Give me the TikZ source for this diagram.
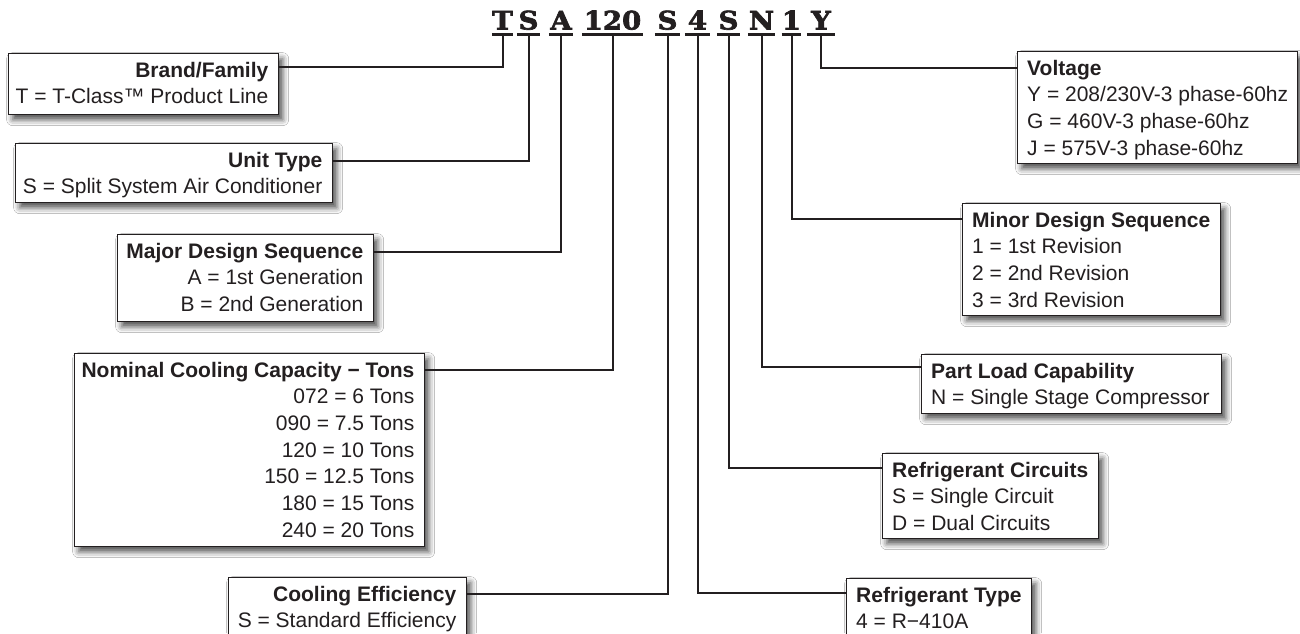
\documentclass[tikz,border=0pt]{standalone}
\usepackage{fontspec}
\setmainfont{Liberation Sans}
\newfontfamily\codefont[FakeStretch=1.08,FakeBold=2.6]{DejaVu Serif}
\usetikzlibrary{shadows.blur,calc}
\definecolor{ink}{HTML}{231F20}
\begin{document}
\begin{tikzpicture}[x=1pt,y=-1pt,
  box/.style={draw=ink,line width=1.3pt,fill=white,inner sep=0pt,anchor=north west,
    blur shadow={shadow xshift=4pt,shadow yshift=-5pt,shadow blur radius=6pt,shadow opacity=70}},
  rtxt/.style={align=right,anchor=base east,inner sep=0pt,text=ink,font=\fontsize{21}{26.7}\selectfont},
  ltxt/.style={align=left,anchor=base west,inner sep=0pt,text=ink,font=\fontsize{21}{26.7}\selectfont},
  code/.style={anchor=base,inner sep=0pt,text depth=5pt,text=ink,font=\codefont\bfseries\fontsize{25.5}{25.5}\selectfont},
  uline/.style={draw=ink,line width=2.6pt},
  conn/.style={draw=ink,line width=2pt}]
\clip (0,0) rectangle (1300,633);
\fill[white] (0,0) rectangle (1300,633);

% code letters
\node[code,minimum width=21pt] (lT) at (502.5,29.5) {T};
\node[code,minimum width=23pt] (lS1) at (528.5,29.5) {S};
\node[code,minimum width=24pt] (lA) at (561,29.5) {A};
\node[code,minimum width=61pt] (l120) at (612.5,29.5) {120};
\node[code,minimum width=25pt] (lS2) at (667.5,29.5) {S};
\node[code,minimum width=25pt] (l4) at (697.5,29.5) {4};
\node[code,minimum width=23pt] (lS3) at (728.5,29.5) {S};
\node[code,minimum width=27pt] (lN) at (761.5,29.5) {N};
\node[code,minimum width=17pt] (l1) at (791.5,29.5) {1};
\node[code,minimum width=28pt] (lY) at (821,29.5) {Y};
\foreach \n in {lT,lS1,lA,l120,lS2,l4,lS3,lN,l1,lY}
  \draw[uline] (\n.south west) -- (\n.south east);

% left boxes (text anchored at the baseline of its last line)
\node[box,minimum width=270pt,minimum height=61pt] (brand) at (8,53) {};
\node[rtxt] (brandT) at (268.5,103.7) {\textbf{Brand/Family}\\T = T-Class™ Product Line};
\node[box,minimum width=317pt,minimum height=59pt] (unit) at (15,143) {};
\node[rtxt] (unitT) at (322.5,193.7) {\textbf{Unit Type}\\S = Split System Air Conditioner};
\node[box,minimum width=256pt,minimum height=87pt] (major) at (117,234) {};
\node[rtxt] (majorT) at (363.5,311.4) {\textbf{Major Design Sequence}\\A = 1st Generation\\B = 2nd Generation};
\node[box,minimum width=350pt,minimum height=193pt] (nominal) at (74,353) {};
\node[rtxt] (nominalT) at (414.5,537.2) {\textbf{Nominal Cooling Capacity − Tons}\\072 = 6 Tons\\090 = 7.5 Tons\\120 = 10 Tons\\150 = 12.5 Tons\\180 = 15 Tons\\240 = 20 Tons};
\node[box,minimum width=238pt,minimum height=68pt] (cooling) at (228,577) {};
\node[rtxt] (coolingT) at (456.5,627.7) {\textbf{Cooling Efficiency}\\S = Standard Efficiency};

% right boxes
\node[box,minimum width=280pt,minimum height=112pt] (voltage) at (1017,51) {};
\node[ltxt] (voltageT) at (1027,155.1) {\textbf{Voltage}\\Y = 208/230V-3 phase-60hz\\G = 460V-3 phase-60hz\\J = 575V-3 phase-60hz};
\node[box,minimum width=258pt,minimum height=112pt] (minor) at (962,203) {};
\node[ltxt] (minorT) at (972,307.1) {\textbf{Minor Design Sequence}\\1 = 1st Revision\\2 = 2nd Revision\\3 = 3rd Revision};
\node[box,minimum width=300pt,minimum height=59pt] (partload) at (921,354) {};
\node[ltxt] (partloadT) at (931,404.7) {\textbf{Part Load Capability}\\N = Single Stage Compressor};
\node[box,minimum width=216pt,minimum height=85pt] (refcirc) at (882,453) {};
\node[ltxt] (refcircT) at (892,530.4) {\textbf{Refrigerant Circuits}\\S = Single Circuit\\D = Dual Circuits};
\node[box,minimum width=185pt,minimum height=67pt] (reftype) at (846,578) {};
\node[ltxt] (reftypeT) at (856,628.7) {\textbf{Refrigerant Type}\\4 = R−410A};

% connectors
\draw[conn] (lT.south) |- ($(brand.north east)+(0,14)$);
\draw[conn] (lS1.south) |- ($(unit.north east)+(0,18)$);
\draw[conn] (lA.south) |- ($(major.north east)+(0,18)$);
\draw[conn] (l120.south) |- ($(nominal.north east)+(0,17)$);
\draw[conn] (lS2.south) |- ($(cooling.north east)+(0,17)$);
\draw[conn] (l4.south) |- ($(reftype.north west)+(0,15)$);
\draw[conn] (lS3.south) |- ($(refcirc.north west)+(0,15)$);
\draw[conn] (lN.south) |- ($(partload.north west)+(0,13)$);
\draw[conn] (l1.south) |- ($(minor.north west)+(0,16)$);
\draw[conn] (lY.south) |- ($(voltage.north west)+(0,17)$);
\end{tikzpicture}
\end{document}
